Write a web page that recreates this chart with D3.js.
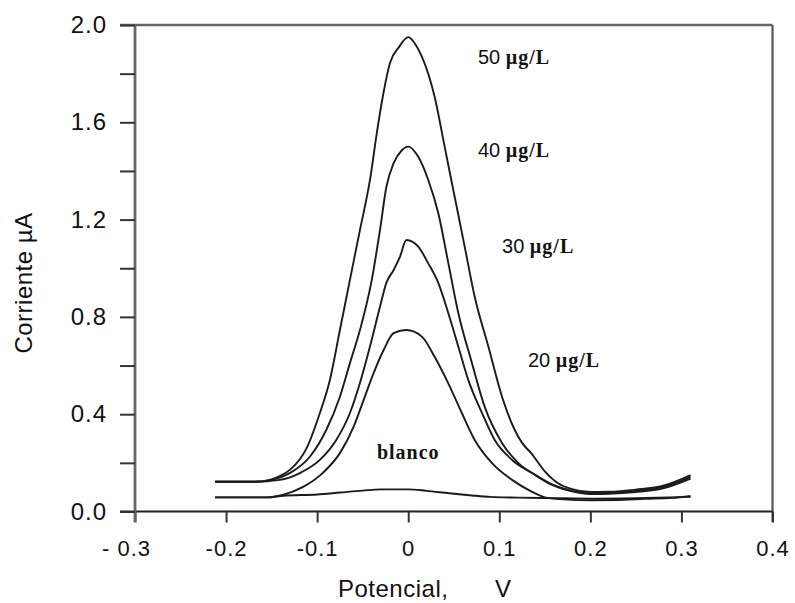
<!DOCTYPE html>
<html>
<head>
<meta charset="utf-8">
<script src="https://cdn.jsdelivr.net/npm/d3@7"></script>
<style>
  body { margin: 0; background: #fff; }
  svg { display: block; }
  .tick text { font-family: 'Liberation Sans', Arial, sans-serif; fill: #111; letter-spacing: 1px; }
  .curve { fill: none; stroke: #1b1b1b; stroke-width: 1.9px; stroke-linejoin: round; }
</style>
</head>
<body>
<div id="chart"></div>
<script>
// potential (V) / current (uA) pairs
const blanco = [[-0.212, 0.058], [-0.155, 0.058], [-0.137, 0.065], [-0.1, 0.07], [-0.075, 0.078],
    [-0.05, 0.086], [-0.03, 0.091], [0, 0.091], [0.02, 0.085], [0.045, 0.075], [0.07, 0.066],
    [0.09, 0.06], [0.12, 0.057], [0.16, 0.055], [0.2, 0.053], [0.25, 0.055], [0.31, 0.06]];

const c20 = [[-0.212, 0.058], [-0.155, 0.058], [-0.138, 0.068], [-0.116, 0.1], [-0.094, 0.158],
    [-0.075, 0.24], [-0.06, 0.348], [-0.049, 0.458], [-0.038, 0.569], [-0.027, 0.664],
    [-0.016, 0.733], [-0.002, 0.746], [0.015, 0.719], [0.029, 0.636], [0.044, 0.527],
    [0.059, 0.404], [0.073, 0.294], [0.092, 0.199], [0.114, 0.13], [0.136, 0.081], [0.15, 0.058],
    [0.17, 0.05], [0.2, 0.046], [0.23, 0.047], [0.26, 0.052], [0.29, 0.056], [0.31, 0.064]];

const c30 = [[-0.212, 0.122], [-0.17, 0.122], [-0.141, 0.13], [-0.119, 0.158], [-0.097, 0.212],
    [-0.079, 0.294], [-0.064, 0.405], [-0.053, 0.528], [-0.042, 0.678], [-0.031, 0.842],
    [-0.024, 0.94], [-0.016, 0.993], [-0.009, 1.048], [-0.002, 1.116], [0.011, 1.089],
    [0.022, 1.02], [0.033, 0.94], [0.044, 0.816], [0.055, 0.678], [0.066, 0.54], [0.081, 0.405],
    [0.095, 0.294], [0.114, 0.212], [0.136, 0.158], [0.158, 0.109], [0.18, 0.083], [0.2, 0.072],
    [0.22, 0.073], [0.25, 0.08], [0.28, 0.095], [0.31, 0.135]];

const c40 = [[-0.212, 0.122], [-0.17, 0.122], [-0.15, 0.13], [-0.13, 0.158], [-0.108, 0.225],
    [-0.09, 0.335], [-0.075, 0.472], [-0.064, 0.61], [-0.053, 0.746], [-0.04, 0.952],
    [-0.031, 1.157], [-0.024, 1.334], [-0.016, 1.432], [-0.007, 1.485], [0, 1.5], [0.011, 1.458],
    [0.022, 1.363], [0.033, 1.227], [0.044, 1.022], [0.055, 0.816], [0.07, 0.61], [0.084, 0.43],
    [0.103, 0.282], [0.121, 0.199], [0.142, 0.145], [0.16, 0.108], [0.18, 0.085], [0.2, 0.075],
    [0.22, 0.076], [0.25, 0.085], [0.28, 0.1], [0.31, 0.142]];

const c50 = [[-0.212, 0.122], [-0.17, 0.122], [-0.152, 0.13], [-0.14, 0.148], [-0.13, 0.171],
    [-0.111, 0.265], [-0.097, 0.405], [-0.086, 0.541], [-0.075, 0.746], [-0.064, 0.952],
    [-0.053, 1.157], [-0.042, 1.363], [-0.034, 1.568], [-0.028, 1.704], [-0.02, 1.844],
    [-0.01, 1.91], [0, 1.95], [0.008, 1.92], [0.015, 1.87], [0.029, 1.705], [0.04, 1.5],
    [0.051, 1.294], [0.062, 1.089], [0.073, 0.883], [0.088, 0.678], [0.103, 0.472],
    [0.117, 0.335], [0.125, 0.282], [0.135, 0.24], [0.15, 0.165], [0.165, 0.115], [0.18, 0.092],
    [0.2, 0.08], [0.22, 0.081], [0.25, 0.09], [0.28, 0.106], [0.31, 0.15]];

const series = [blanco, c20, c30, c40, c50];
const seriesNames = ['blanco', '20', '30', '40', '50'];
// where each curve label sits, in data units (left/baseline)
const labelPos = [[-0.0344, 0.216], [0.1315, 0.594], [0.103, 1.063], [0.0766, 1.457], [0.0766, 1.84]];

const xTicks = [-0.3, -0.2, -0.1, 0, 0.1, 0.2, 0.3, 0.4];
const xTickLabels = ['- 0.3', '-0.2', '-0.1', '0', '0.1', '0.2', '0.3', '0.4'];
const yTicks = [0, 0.2, 0.4, 0.6, 0.8, 1.0, 1.2, 1.4, 1.6, 1.8, 2.0];
const yTickLabels = ['0.0', '', '0.4', '', '0.8', '', '1.2', '', '1.6', '', '2.0'];

let width = 795,
    height = 603;

let svg = d3.select('#chart').append('svg')
    .attr('width', width)
    .attr('height', height);

let x = d3.scaleLinear()
    .domain([-0.3, 0.4])
    .range([135, 772.5]);

let y = d3.scaleLinear()
    .domain([0, 2])
    .range([511.5, 25]);

// frame: top and right lines
svg.append('line')
    .attr('x1', 120).attr('x2', x(0.4))
    .attr('y1', y(2)).attr('y2', y(2))
    .attr('stroke', '#666').attr('stroke-width', 2.5);
svg.append('line')
    .attr('x1', x(0.4)).attr('x2', x(0.4))
    .attr('y1', y(2)).attr('y2', 522)
    .attr('stroke', '#555').attr('stroke-width', 2.2);

let xAxis = svg.append('g')
    .attr('transform', `translate(0, ${y(0)})`)
    .call(d3.axisBottom(x)
        .tickValues(xTicks)
        .tickSize(11)
        .tickSizeOuter(0)
        .tickPadding(18)
        .tickFormat((d, i) => xTickLabels[i]));
xAxis.select('.domain')
    .attr('stroke', '#222').attr('stroke-width', 2)
    .attr('d', `M120,0H${x(0.4)}`);
xAxis.selectAll('.tick line').attr('stroke', '#333').attr('stroke-width', 2);
xAxis.selectAll('.tick text')
    .style('font-size', '22px')
    .attr('dx', (d, i) => i === 0 ? -9 : 0);

let yAxis = svg.append('g')
    .attr('transform', `translate(${x(-0.3)}, 0)`)
    .call(d3.axisLeft(y)
        .tickValues(yTicks)
        .tickSize(15)
        .tickSizeOuter(0)
        .tickPadding(13)
        .tickFormat((d, i) => yTickLabels[i]));
yAxis.select('.domain')
    .attr('stroke', '#666').attr('stroke-width', 2.8)
    .attr('d', `M0,${y(2)}V522`);
yAxis.selectAll('.tick line').attr('stroke', '#333').attr('stroke-width', 2);
yAxis.selectAll('.tick text').style('font-size', '24px');

let line = d3.line()
    .x(d => x(d[0]))
    .y(d => y(d[1]))
    .curve(d3.curveMonotoneX);

svg.append('g')
    .selectAll('path')
    .data(series)
    .join('path')
    .attr('class', 'curve')
    .attr('d', line);

// curve labels
let labels = svg.append('g')
    .selectAll('text')
    .data(seriesNames)
    .join('text')
    .attr('x', (d, i) => x(labelPos[i][0]))
    .attr('y', (d, i) => y(labelPos[i][1]))
    .attr('fill', '#111');

labels.each(function (d) {
    let t = d3.select(this);
    if (d === 'blanco') {
        t.append('tspan')
            .style('font-family', "'Liberation Serif', 'Times New Roman', serif")
            .style('font-weight', 'bold')
            .style('font-size', '20px')
            .style('letter-spacing', '1px')
            .text('blanco');
    } else {
        t.append('tspan')
            .style('font-family', "'Liberation Sans', Arial, sans-serif")
            .style('font-size', '20px')
            .text(d + ' ');
        t.append('tspan')
            .style('font-family', "'Liberation Serif', 'Times New Roman', serif")
            .style('font-weight', 'bold')
            .style('font-size', '20px')
            .style('letter-spacing', '1px')
            .text('µg/L');
    }
});

// axis titles
svg.append('text')
    .attr('x', 338)
    .attr('y', 597)
    .style('font-family', "'Liberation Sans', Arial, sans-serif")
    .style('font-size', '24px')
    .style('letter-spacing', '0.5px')
    .attr('fill', '#111')
    .text('Potencial,');
svg.append('text')
    .attr('x', 503)
    .attr('y', 597)
    .attr('text-anchor', 'middle')
    .style('font-family', "'Liberation Sans', Arial, sans-serif")
    .style('font-size', '24px')
    .attr('fill', '#111')
    .text('V');

svg.append('text')
    .attr('transform', 'translate(32, 283) rotate(-90)')
    .attr('text-anchor', 'middle')
    .style('font-family', "'Liberation Sans', Arial, sans-serif")
    .style('font-size', '24px')
    .style('letter-spacing', '0.5px')
    .attr('fill', '#111')
    .text('Corriente µA');
</script>
</body>
</html>
